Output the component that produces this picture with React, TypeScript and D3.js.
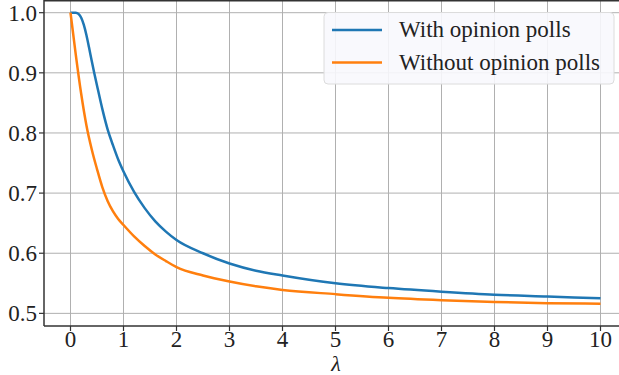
import * as d3 from 'd3';

// lambda values and the two curves
const lambdaWith = [0, 0.1, 0.15, 0.2, 0.25, 0.3, 0.35, 0.4, 0.45, 0.5, 0.6, 0.7, 0.8, 0.9, 1.0, 1.2, 1.4, 1.6, 1.8, 2.0, 2.5, 3, 3.5, 4, 5, 6, 7, 8, 9, 10];
const withPolls = [1.0, 1.0, 0.998, 0.992, 0.98, 0.963, 0.942, 0.92, 0.899, 0.879, 0.84, 0.806, 0.78, 0.756, 0.736, 0.702, 0.675, 0.653, 0.636, 0.622, 0.6, 0.583, 0.571, 0.563, 0.55, 0.542, 0.536, 0.531, 0.528, 0.525];

const lambdaWithout = [0, 0.1, 0.2, 0.3, 0.4, 0.5, 0.6, 0.7, 0.8, 0.9, 1.0, 1.2, 1.4, 1.6, 1.8, 2.0, 2.5, 3, 3.5, 4, 5, 6, 7, 8, 9, 10];
const withoutPolls = [1.0, 0.93, 0.866, 0.813, 0.773, 0.74, 0.71, 0.687, 0.67, 0.657, 0.647, 0.628, 0.612, 0.598, 0.587, 0.577, 0.563, 0.553, 0.545, 0.539, 0.532, 0.526, 0.522, 0.519, 0.517, 0.516];

const xTicks = [0, 1, 2, 3, 4, 5, 6, 7, 8, 9, 10];
const yTicks = [0.5, 0.6, 0.7, 0.8, 0.9, 1.0];
const legendLabels = ['With opinion polls', 'Without opinion polls'];
const colors = ['#1f77b4', '#ff7f0e'];

const W = 619;
const H = 375;
const left = 44;
const bottom = 326;

export default function App() {
  const x = d3.scaleLinear().domain([-0.5, 10.5]).range([left, left + 583]);
  const y = d3.scaleLinear().domain([0.479, 1.0211]).range([bottom, 0]);

  const line = d3.line<[number, number]>()
    .x(d => x(d[0]))
    .y(d => y(d[1]))
    .curve(d3.curveMonotoneX);

  const series = [
    lambdaWith.map((l, i) => [l, withPolls[i]] as [number, number]),
    lambdaWithout.map((l, i) => [l, withoutPolls[i]] as [number, number]),
  ];

  return (
    <svg width={W} height={H} fontFamily="Liberation Serif" style={{ position: 'fixed', left: 0, top: 0, background: '#fff' }}>
      {/* grid */}
      <g stroke="#b0b0b0" strokeWidth={1}>
        {xTicks.map(t => (
          <line key={'gx' + t} x1={x(t)} x2={x(t)} y1={0} y2={bottom} />
        ))}
        {yTicks.map(t => (
          <line key={'gy' + t} x1={left} x2={W} y1={y(t)} y2={y(t)} />
        ))}
      </g>

      {/* curves */}
      {series.map((s, i) => (
        <path key={i} d={line(s) || ''} fill="none" stroke={colors[i]} strokeWidth={2.5} />
      ))}

      {/* spines */}
      <g stroke="#333" strokeWidth={1.5} fill="none">
        <line x1={left} x2={left} y1={0} y2={bottom} />
        <line x1={left} x2={W} y1={bottom} y2={bottom} />
        <line x1={left} x2={W} y1={0.75} y2={0.75} />
      </g>

      {/* x ticks */}
      {xTicks.map(t => (
        <g key={'xt' + t} transform={`translate(${x(t)},${bottom})`}>
          <line y1={0} y2={5} stroke="#333" strokeWidth={1.2} />
          <text y={21} textAnchor="middle" fontSize={23} fill="#222">{t}</text>
        </g>
      ))}

      {/* y ticks */}
      {yTicks.map(t => (
        <g key={'yt' + t} transform={`translate(${left},${y(t)})`}>
          <line x1={0} x2={-5} stroke="#333" strokeWidth={1.2} />
          <text x={-7} dy="0.35em" textAnchor="end" fontSize={23} fill="#222">{t.toFixed(1)}</text>
        </g>
      ))}

      <text x={336} y={371} textAnchor="middle" fontStyle="italic" fontSize={22} fill="#222">λ</text>

      {/* legend */}
      <g>
        <rect x={324} y={12.5} width={290} height={71.5} rx={4} fill="#f8f8fd" fillOpacity={0.9} stroke="#dcdcdc" />
        {legendLabels.map((lab, i) => (
          <g key={lab} transform={`translate(332,${30 + i * 32.5})`}>
            <line x1={0} x2={50} stroke={colors[i]} strokeWidth={2.5} />
            <text x={67} dy="0.32em" fontSize={23} fill="#222">{lab}</text>
          </g>
        ))}
      </g>
    </svg>
  );
}
